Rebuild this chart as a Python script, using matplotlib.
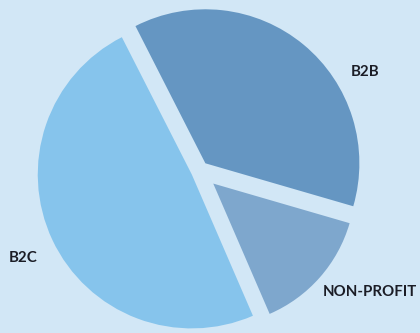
import matplotlib
matplotlib.use("Agg")
import matplotlib.pyplot as plt

# data
labels = ["B2C", "NON-PROFIT", "B2B"]
shares = [49, 14, 37]
colors = ["#86c4ec", "#7ea7cd", "#6596c2"]
explode = [8, 19, 10]  # pixel offsets
radii = [154, 142, 154]

bg = "#d2e7f6"

fig = plt.figure(figsize=(4.2, 3.33), dpi=100, facecolor=bg)
ax = fig.add_axes([0, 0, 1, 1])
ax.set_facecolor(bg)

# axes in pixel units, y up
wedges, _ = ax.pie(shares, colors=colors, explode=explode, startangle=117,
                   counterclock=True, center=(199, 162), radius=154,
                   wedgeprops=dict(linewidth=0))
for w, r in zip(wedges, radii):
    w.set_radius(r)

ax.set_xlim(0, 420)
ax.set_ylim(0, 333)
ax.set_aspect("equal")
ax.axis("off")

font = dict(family=["Lato", "DejaVu Sans"], fontweight="bold",
            fontsize=10.8, color="#1b1d26", va="center")
ax.text(365, 333 - 72, labels[2], ha="center", **font)
ax.text(370, 333 - 292, labels[1], ha="center", **font)
ax.text(23, 333 - 258, labels[0], ha="center", **font)

fig.savefig("out.png", dpi=100, facecolor=bg)
